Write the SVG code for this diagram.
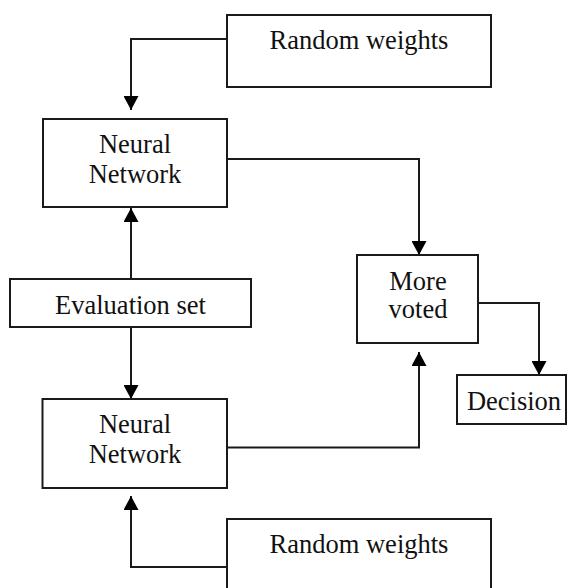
<svg xmlns="http://www.w3.org/2000/svg" width="572" height="588" viewBox="0 0 572 588">
  <style>
    .box { fill: #ffffff; stroke: #1a1a1a; stroke-width: 2; }
    .lbl { font-family: "Liberation Serif", "Times New Roman", serif; font-size: 26.5px; fill: #111111; text-anchor: middle; }
    .edge { fill: none; stroke: #1a1a1a; stroke-width: 2; marker-end: url(#arrow); }
  </style>
  <defs>
    <marker id="arrow" markerUnits="userSpaceOnUse" markerWidth="15" markerHeight="15" viewBox="0 0 14 15" refX="14" refY="7.5" orient="auto">
      <path d="M0,0 L14,7.5 L0,15 z" fill="#000000"/>
    </marker>
  </defs>
  <rect width="572" height="588" fill="#ffffff"/>

  <g id="connectors">
    <path class="edge" d="M227,39 H131 V110"/>
    <path class="edge" d="M227,159 H419 V255"/>
    <path class="edge" d="M131,279 V208"/>
    <path class="edge" d="M131,327 V399"/>
    <path class="edge" d="M227,447.5 H419 V352"/>
    <path class="edge" d="M478,303 H539 V375"/>
    <path class="edge" d="M227,567 H131 V496"/>
  </g>

  <g id="random-weights-top">
    <rect class="box" x="227" y="15" width="264" height="72"/>
    <text class="lbl" x="359" y="49">Random weights</text>
  </g>
  <g id="neural-network-top">
    <rect class="box" x="43" y="119" width="184" height="88"/>
    <text class="lbl" x="135" y="153">Neural</text>
    <text class="lbl" x="135" y="183">Network</text>
  </g>
  <g id="evaluation-set">
    <rect class="box" x="10" y="279" width="241" height="48"/>
    <text class="lbl" x="130.5" y="314">Evaluation set</text>
  </g>
  <g id="neural-network-bottom">
    <rect class="box" x="42.5" y="399" width="184.5" height="89"/>
    <text class="lbl" x="135" y="433">Neural</text>
    <text class="lbl" x="135" y="463">Network</text>
  </g>
  <g id="more-voted">
    <rect class="box" x="357" y="255" width="121" height="88"/>
    <text class="lbl" x="418" y="290">More</text>
    <text class="lbl" x="418" y="318">voted</text>
  </g>
  <g id="decision">
    <rect class="box" x="457" y="375" width="109" height="49"/>
    <text class="lbl" x="514" y="409.5">Decision</text>
  </g>
  <g id="random-weights-bottom">
    <rect class="box" x="227" y="519" width="264" height="80"/>
    <text class="lbl" x="359" y="553">Random weights</text>
  </g>
</svg>
